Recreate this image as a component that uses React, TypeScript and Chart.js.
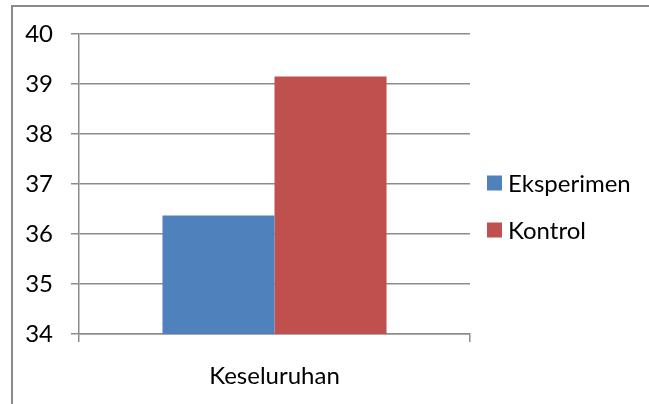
import React, { useEffect, useRef } from "react";
import { Chart, registerables } from "chart.js";

Chart.register(...registerables);

const categories = ["Keseluruhan"];
const seriesNames = ["Eksperimen", "Kontrol"];
const eksperimenValues = [36.37];
const kontrolValues = [39.15];
const seriesColors = ["#4F81BD", "#C0504D"];
const yMin = 34;
const yMax = 40;
const yStep = 1;

const FONT = "Lato, 'Open Sans', sans-serif";
const GRID = "#8c8c8c";

// Legend drawn to the right of the plot: small square swatch + label
const sideLegend = {
  id: "sideLegend",
  afterDraw(chart: Chart) {
    const { ctx, chartArea } = chart;
    ctx.save();
    ctx.font = `24px ${FONT}`;
    ctx.textBaseline = "middle";
    ctx.textAlign = "left";
    const x0 = chartArea.right + 17;
    const firstY = 176;
    const step = 47;
    chart.data.datasets.forEach((ds, i) => {
      const cy = firstY + i * step;
      ctx.fillStyle = ds.backgroundColor as string;
      ctx.fillRect(x0, cy - 7.5, 15, 15);
      ctx.fillStyle = "#000";
      ctx.fillText(String(ds.label), x0 + 21, cy + 1);
    });
    ctx.restore();
  },
};

export default function App() {
  const canvasRef = useRef<HTMLCanvasElement | null>(null);

  useEffect(() => {
    if (!canvasRef.current) return;
    const chart = new Chart(canvasRef.current, {
      type: "bar",
      data: {
        labels: categories,
        datasets: [
          {
            label: seriesNames[0],
            data: eksperimenValues,
            backgroundColor: seriesColors[0],
            borderWidth: 0,
          },
          {
            label: seriesNames[1],
            data: kontrolValues,
            backgroundColor: seriesColors[1],
            borderWidth: 0,
          },
        ],
      },
      options: {
        animation: false,
        responsive: false,
        maintainAspectRatio: false,
        devicePixelRatio: 1,
        layout: { padding: { left: 0, right: 179, top: 27, bottom: 0 } },
        datasets: {
          bar: { categoryPercentage: 0.573, barPercentage: 1 },
        },
        plugins: {
          legend: { display: false },
          tooltip: { enabled: false },
        },
        scales: {
          x: {
            afterFit(scale: any) {
              scale.height = 70;
              scale.paddingLeft = 0;
              scale.paddingRight = 0;
            },
            grid: {
              offset: true,
              drawOnChartArea: false,
              drawTicks: true,
              tickLength: 8,
              color: GRID,
              lineWidth: 1.5,
            },
            border: { display: true, color: GRID, width: 1.5 },
            ticks: {
              color: "#000",
              font: { family: FONT, size: 24 },
              padding: 20,
            },
          },
          y: {
            min: yMin,
            max: yMax,
            afterFit(scale: any) {
              scale.width = 66;
              scale.paddingTop = 0;
              scale.paddingBottom = 0;
            },
            grid: {
              drawOnChartArea: true,
              drawTicks: true,
              tickLength: 8,
              color: GRID,
              lineWidth: 1.5,
            },
            border: { display: true, color: GRID, width: 1.5 },
            ticks: {
              stepSize: yStep,
              color: "#000",
              font: { family: FONT, size: 24 },
              padding: 18,
            },
          },
        },
      },
      plugins: [sideLegend],
    });
    return () => chart.destroy();
  }, []);

  return (
    <div
      style={{
        position: "absolute",
        left: 0,
        top: 0,
        width: 649,
        height: 404,
        background: "#fff",
        overflow: "hidden",
      }}
    >
      <div
        style={{
          position: "absolute",
          left: 11,
          top: 5,
          width: 650,
          height: 410,
          borderLeft: "2px solid #8a8a8a",
          borderTop: "2px solid #8a8a8a",
        }}
      >
        <canvas
          ref={canvasRef}
          width={636}
          height={397}
          style={{ display: "block", width: 636, height: 397 }}
        />
      </div>
    </div>
  );
}
